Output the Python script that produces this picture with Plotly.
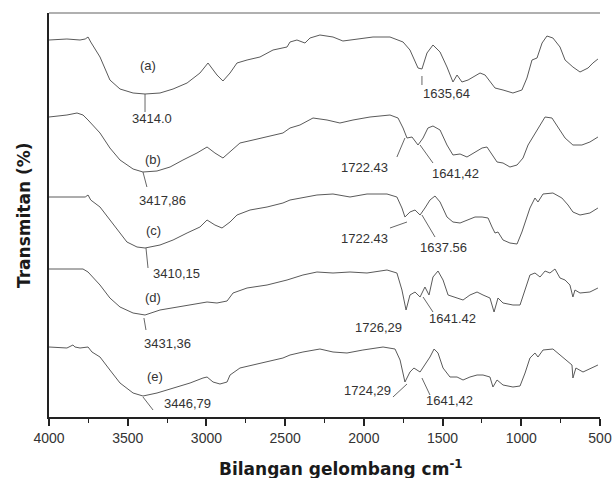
import numpy as np
import plotly.graph_objects as go

# ---------------- data (wavenumber cm-1, transmittance a.u.) ----------------
wn_a = [4000, 3886, 3803, 3770, 3752, 3735, 3676, 3613, 3549, 3466, 3390, 3295, 3212, 3123, 3041, 2990,
        2933, 2895, 2850, 2806, 2742, 2660, 2577, 2488, 2469, 2425, 2374, 2342, 2279, 2196, 2133, 2044,
        1942, 1834, 1751, 1707, 1656, 1631, 1599, 1561, 1516, 1472, 1434, 1408, 1377, 1338, 1307, 1262,
        1230, 1199, 1167, 1116, 1053, 996, 964, 932, 900, 868, 837, 799, 754, 722, 672, 627, 576, 545, 513]
t_a = [377, 378, 377, 378, 380, 375, 360, 337, 328, 324, 323, 324, 328, 334, 344, 354,
       342, 336, 344, 354, 357, 360, 367, 370, 375, 377, 374, 379, 382, 380, 376, 378,
       380, 380, 375, 367, 349, 348, 364, 372, 365, 350, 335, 342, 335, 337, 340, 344,
       342, 335, 329, 327, 324, 327, 339, 357, 359, 374, 381, 379, 370, 357, 350, 345, 349, 354, 358]

wn_b = [4000, 3886, 3822, 3784, 3752, 3676, 3613, 3549, 3466, 3403, 3314, 3231, 3149, 3060, 2996, 2946,
        2895, 2850, 2787, 2704, 2615, 2514, 2469, 2406, 2323, 2234, 2152, 2069, 1961, 1834, 1783, 1751,
        1726, 1694, 1656, 1624, 1593, 1561, 1516, 1472, 1434, 1389, 1345, 1294, 1249, 1218, 1186, 1154,
        1116, 1072, 1027, 989, 957, 913, 881, 849, 805, 767, 722, 672, 615, 564, 513]
t_b = [300, 302, 304, 302, 297, 284, 269, 257, 248, 245, 246, 250, 257, 264, 270, 264,
       259, 265, 274, 277, 280, 284, 289, 292, 299, 297, 294, 297, 300, 302, 299, 289,
       279, 280, 272, 279, 289, 291, 287, 272, 262, 263, 260, 265, 269, 270, 262, 255,
       254, 250, 252, 259, 272, 284, 292, 300, 299, 290, 279, 272, 272, 275, 280]

wn_c = [4000, 3886, 3770, 3752, 3735, 3676, 3613, 3593, 3505, 3441, 3390, 3295, 3212, 3123, 3041, 2996,
        2946, 2901, 2850, 2806, 2723, 2615, 2514, 2469, 2406, 2374, 2298, 2196, 2088, 1980, 1853, 1790,
        1758, 1739, 1707, 1675, 1643, 1612, 1580, 1548, 1516, 1472, 1434, 1389, 1345, 1294, 1249, 1211,
        1186, 1167, 1148, 1116, 1072, 1027, 996, 976, 945, 913, 894, 862, 799, 742, 703, 672, 627, 564, 513]
t_c = [220, 220, 220, 222, 217, 210, 197, 192, 175, 170, 169, 172, 177, 184, 190, 197,
       192, 189, 195, 202, 207, 210, 214, 217, 219, 220, 222, 223, 220, 223, 223, 220,
       209, 200, 205, 207, 202, 209, 217, 221, 215, 200, 195, 194, 197, 200, 200, 199,
       190, 184, 185, 177, 174, 173, 185, 195, 209, 219, 215, 223, 224, 219, 212, 205, 202, 204, 209]

wn_d = [4000, 3784, 3752, 3676, 3613, 3549, 3466, 3390, 3295, 3187, 3085, 2996, 2933, 2869, 2831, 2742,
        2615, 2488, 2387, 2298, 2196, 2088, 1980, 1853, 1790, 1758, 1732, 1707, 1675, 1643, 1612, 1586,
        1561, 1529, 1497, 1465, 1408, 1370, 1326, 1281, 1243, 1199, 1173, 1148, 1116, 1053, 1008, 976,
        945, 913, 881, 849, 818, 786, 754, 722, 691, 672, 659, 627, 564, 513]
t_d = [148, 148, 145, 132, 119, 110, 104, 102, 107, 110, 113, 115, 114, 116, 124, 129,
       132, 137, 142, 145, 144, 145, 144, 147, 144, 127, 107, 122, 125, 120, 130, 122,
       140, 146, 137, 122, 119, 117, 122, 125, 122, 119, 105, 119, 114, 112, 112, 127,
       142, 144, 140, 146, 144, 148, 139, 137, 132, 120, 127, 124, 125, 129]

wn_e = [4000, 3886, 3848, 3835, 3803, 3752, 3727, 3676, 3613, 3549, 3466, 3403, 3314, 3212, 3104, 3022,
        2996, 2958, 2914, 2869, 2850, 2787, 2660, 2514, 2469, 2387, 2279, 2196, 2107, 2006, 1878, 1802,
        1770, 1739, 1707, 1682, 1643, 1612, 1580, 1554, 1529, 1497, 1453, 1408, 1370, 1326, 1281, 1243,
        1199, 1180, 1154, 1116, 1053, 1008, 976, 945, 913, 894, 862, 799, 754, 710, 678, 672, 653, 608, 551, 513]
t_e = [70, 69, 72, 70, 69, 70, 65, 60, 47, 34, 24, 21, 24, 29, 34, 39,
       40, 35, 33, 35, 42, 49, 54, 59, 62, 65, 68, 65, 64, 67, 70, 68,
       57, 35, 45, 49, 45, 52, 60, 68, 64, 49, 40, 40, 37, 40, 42, 42,
       40, 30, 37, 32, 30, 31, 44, 59, 64, 60, 67, 68, 62, 57, 52, 39, 49, 45, 49, 52]

series_wn = [wn_a, wn_b, wn_c, wn_d, wn_e]
series_t = [t_a, t_b, t_c, t_d, t_e]

# curve labels
curve_labels = ["(a)", "(b)", "(c)", "(d)", "(e)"]
curve_label_wn = [3371, 3339, 3339, 3339, 3327]
curve_label_t = [352, 258, 187, 120, 41]

# peak labels: text, text position, leader line start/end (data coords)
peak_text = ["3414.0", "1635,64", "3417,86", "1722.43", "1641,42", "3410,15", "1722.43", "1637.56",
             "3431,36", "1726,29", "1641.42", "3446,79", "1724,29", "1641,42"]
peak_text_wn = [3346, 1472, 3276, 1993, 1421, 3187, 1993, 1497, 3250, 1910, 1440, 3123, 1974, 1453]
peak_text_t = [299, 324, 217, 250, 244, 144, 179, 170, 74, 90, 99, 14, 27, 17]
line_wn0 = [3390, 1631, 3403, 1739, 1643, 3384, 1726, 1631, 3397, 1624, 3403, 1726, 1631]
line_t0 = [323, 341, 245, 279, 272, 169, 195, 202, 99, 120, 20, 33, 39]
line_wn1 = [3390, 1631, 3378, 1790, 1561, 3371, 1834, 1548, 3384, 1561, 3339, 1815, 1580]
line_t1 = [305, 332, 230, 260, 254, 149, 189, 180, 87, 105, 7, 20, 22]

x_ticks = [4000, 3500, 3000, 2500, 2000, 1500, 1000, 500]

# ---------------- figure ----------------
FONT = "Liberation Sans, Arial, sans-serif"
TFONT = "DejaVu Sans, Arial, sans-serif"
fig = go.Figure()
for wn, t in zip(series_wn, series_t):
    fig.add_trace(go.Scatter(x=wn, y=t, mode="lines",
                             line=dict(color="#5a5a5a", width=1), showlegend=False,
                             hoverinfo="skip"))

annotations = []
for lab, x, y in zip(curve_labels, curve_label_wn, curve_label_t):
    annotations.append(dict(x=x, y=y, text=lab, showarrow=False,
                            font=dict(family=FONT, size=13, color="#333333")))
for txt, x, y in zip(peak_text, peak_text_wn, peak_text_t):
    annotations.append(dict(x=x, y=y, text=txt, showarrow=False,
                            font=dict(family=FONT, size=13, color="#333333")))
# axis titles
annotations.append(dict(xref="paper", yref="paper", x=0, y=0.5, xshift=-25,
                        xanchor="center", yanchor="middle",
                        text="<b>Transmitan (%)</b>", textangle=-90, showarrow=False,
                        font=dict(family=TFONT, size=17, color="#1a1a1a")))
annotations.append(dict(xref="paper", yref="paper", x=0.5, y=0, xshift=16, yshift=-51,
                        xanchor="center", yanchor="middle",
                        text="<b>Bilangan gelombang cm<sup>-1</sup></b>", showarrow=False,
                        font=dict(family=TFONT, size=17, color="#1a1a1a")))

shapes = [dict(type="line", xref="paper", yref="paper", x0=0, x1=1, y0=1, y1=1,
               line=dict(color="#b0b0b0", width=2))]
for x0, y0, x1, y1 in zip(line_wn0, line_t0, line_wn1, line_t1):
    shapes.append(dict(type="line", xref="x", yref="y", x0=x0, y0=y0, x1=x1, y1=y1,
                       line=dict(color="#555555", width=0.9)))

fig.update_layout(
    width=613, height=478,
    margin=dict(l=49, r=13, t=13, b=61),
    paper_bgcolor="white", plot_bgcolor="white",
    annotations=annotations,
    shapes=shapes,
    xaxis=dict(range=[4000, 500], autorange=False, showgrid=False, zeroline=False,
               automargin=False, ticklabeloverflow="allow",
               showline=True, linecolor="#222222", linewidth=1.5,
               ticks="outside", ticklen=7, tickwidth=1.5, tickcolor="#222222",
               tickvals=x_ticks, ticktext=[str(v) for v in x_ticks],
               tickfont=dict(family=FONT, size=14, color="#333333"),
               minor=dict(ticks="outside", ticklen=4, tickwidth=1.2, tickcolor="#222222", dtick=250,
                          tick0=500, showgrid=False)),
    yaxis=dict(range=[0, 404], showgrid=False, zeroline=False, showticklabels=False,
               automargin=False,
               ticks="", showline=True, linecolor="#222222", linewidth=1.5),
)

# remove the default 8px page margin so the 613x478 figure fills the window exactly
fig.write_html("out.html",
               config={"displayModeBar": False},
               post_script="document.body.style.margin='0px';document.body.style.overflow='hidden';")
